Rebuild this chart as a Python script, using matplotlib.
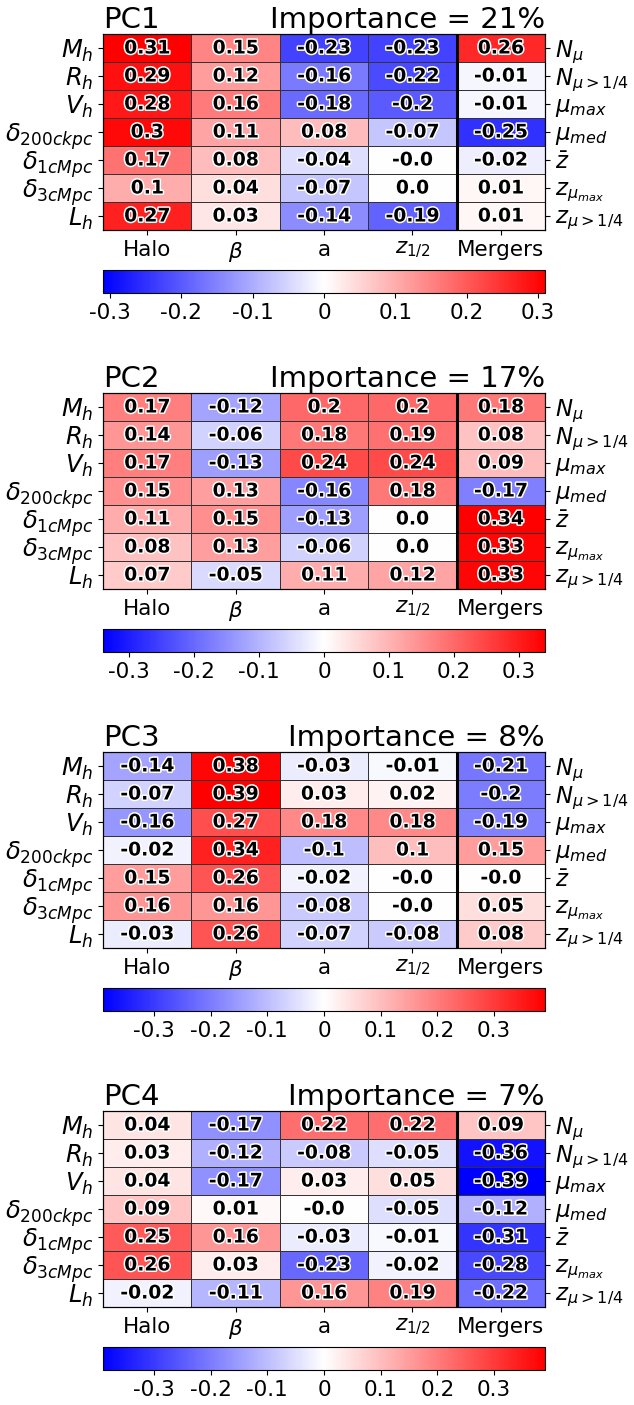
import numpy as np
import matplotlib
matplotlib.use('Agg')
import matplotlib.pyplot as plt
import matplotlib.patheffects as pe
from matplotlib.ticker import MultipleLocator, FuncFormatter

# row / column labels
row_labels = [r'$M_h$', r'$R_h$', r'$V_h$', r'$\delta_{200ckpc}$',
              r'$\delta_{1cMpc}$', r'$\delta_{3cMpc}$', r'$L_h$']
right_labels = [r'$N_\mu$', r'$N_{\mu>1/4}$', r'$\mu_{max}$', r'$\mu_{med}$',
                r'$\bar{z}$', r'$z_{\mu_{max}}$', r'$z_{\mu>1/4}$']
col_labels = ['Halo', r'$\beta$', 'a', r'$z_{1/2}$', 'Mergers']

pc_names = ['PC1', 'PC2', 'PC3', 'PC4']
importance = [21, 17, 8, 7]

pc1 = [[0.31, 0.15, -0.23, -0.23, 0.26],
       [0.29, 0.12, -0.16, -0.22, -0.01],
       [0.28, 0.16, -0.18, -0.2, -0.01],
       [0.3, 0.11, 0.08, -0.07, -0.25],
       [0.17, 0.08, -0.04, -0.0, -0.02],
       [0.1, 0.04, -0.07, 0.0, 0.01],
       [0.27, 0.03, -0.14, -0.19, 0.01]]

pc2 = [[0.17, -0.12, 0.2, 0.2, 0.18],
       [0.14, -0.06, 0.18, 0.19, 0.08],
       [0.17, -0.13, 0.24, 0.24, 0.09],
       [0.15, 0.13, -0.16, 0.18, -0.17],
       [0.11, 0.15, -0.13, 0.0, 0.34],
       [0.08, 0.13, -0.06, 0.0, 0.33],
       [0.07, -0.05, 0.11, 0.12, 0.33]]

pc3 = [[-0.14, 0.38, -0.03, -0.01, -0.21],
       [-0.07, 0.39, 0.03, 0.02, -0.2],
       [-0.16, 0.27, 0.18, 0.18, -0.19],
       [-0.02, 0.34, -0.1, 0.1, 0.15],
       [0.15, 0.26, -0.02, -0.0, -0.0],
       [0.16, 0.16, -0.08, -0.0, 0.05],
       [-0.03, 0.26, -0.07, -0.08, 0.08]]

pc4 = [[0.04, -0.17, 0.22, 0.22, 0.09],
       [0.03, -0.12, -0.08, -0.05, -0.36],
       [0.04, -0.17, 0.03, 0.05, -0.39],
       [0.09, 0.01, -0.0, -0.05, -0.12],
       [0.25, 0.16, -0.03, -0.01, -0.31],
       [0.26, 0.03, -0.23, -0.02, -0.28],
       [-0.02, -0.11, 0.16, 0.19, -0.22]]

W, H = 634, 1405
fig = plt.figure(figsize=(W / 100, H / 100), dpi=100)


def box(x, y, w, h):
    # pixel box (from top-left) -> figure fraction
    return [x / W, 1 - (y + h) / H, w / W, h / H]


def cbar_fmt(x, pos):
    if abs(x) < 1e-9:
        return '0'
    return f'{x:g}'


for i, data in enumerate([pc1, pc2, pc3, pc4]):
    vals = np.array(data, dtype=float)
    vmax = np.abs(vals).max()
    top = 34 + 359 * i
    ax = fig.add_axes(box(103, top, 442, 196))
    mesh = ax.pcolormesh(vals, cmap='bwr', vmin=-vmax, vmax=vmax,
                         edgecolors='#333333', linewidth=0.6)
    ax.set_xlim(0, 5)
    ax.set_ylim(7, 0)
    ax.axvline(4, color='k', lw=2.2)
    for r in range(vals.shape[0]):
        for c in range(vals.shape[1]):
            ax.text(c + 0.5, r + 0.5, str(float(vals[r, c])), ha='center', va='center',
                    fontsize=13.5, fontweight='bold',
                    path_effects=[pe.withStroke(linewidth=2.2, foreground='w')])
    ax.set_xticks(np.arange(5) + 0.5)
    ax.set_xticklabels(col_labels, fontsize=15.5)
    ax.set_yticks(np.arange(7) + 0.5)
    ax.set_yticklabels(row_labels, fontsize=17.5)
    axr = ax.twinx()
    axr.set_ylim(7, 0)
    axr.set_yticks(np.arange(7) + 0.5)
    axr.set_yticklabels(right_labels, fontsize=16.5)
    ax.set_title(pc_names[i], loc='left', fontsize=21, pad=4)
    ax.set_title('Importance = %d%%' % importance[i], loc='right', fontsize=21, pad=4)

    cax = fig.add_axes(box(103, top + 236, 442, 23))
    cb = fig.colorbar(mesh, cax=cax, orientation='horizontal')
    cb.ax.xaxis.set_major_locator(MultipleLocator(0.1))
    cb.ax.xaxis.set_major_formatter(FuncFormatter(cbar_fmt))
    cb.ax.tick_params(labelsize=15.5)

fig.savefig('out.png', dpi=100)
